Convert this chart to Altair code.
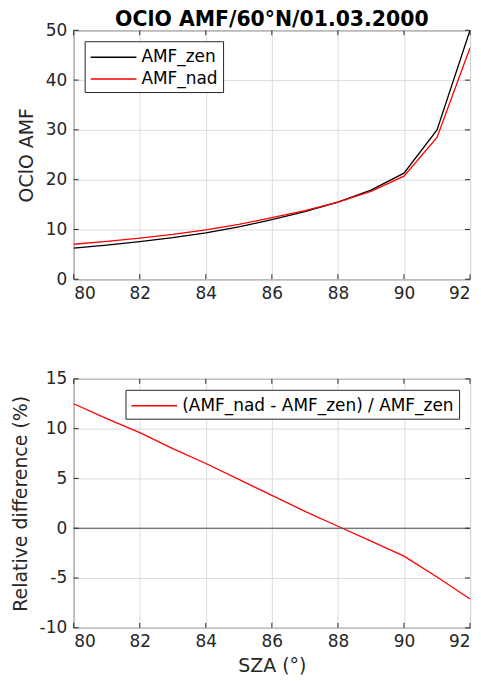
import altair as alt
import pandas as pd

sza = [80, 81, 82, 83, 84, 85, 86, 87, 88, 89, 90, 91, 92]
amf_zen = [6.25, 6.85, 7.55, 8.35, 9.3, 10.5, 12.0, 13.6, 15.5, 17.9, 21.3, 30.0, 50.0]
amf_nad = [7.03, 7.6, 8.27, 9.0, 9.9, 11.0, 12.4, 13.8, 15.5, 17.65, 20.7, 28.5, 46.5]
rel_diff = [12.5, 11.0, 9.6, 8.0, 6.5, 4.9, 3.3, 1.7, 0.2, -1.3, -2.8, -4.9, -7.1]

x_ticks = [80, 82, 84, 86, 88, 90, 92]
y1_ticks = [0, 10, 20, 30, 40, 50]
y2_ticks = [-10, -5, 0, 5, 10, 15]

W, H = 398, 250
AX = "#262626"
FONT = "DejaVu Sans"

top_df = pd.DataFrame(
    {"SZA": sza * 2, "AMF": amf_zen + amf_nad,
     "series": ["AMF_zen"] * len(sza) + ["AMF_nad"] * len(sza)}
)
bot_df = pd.DataFrame({"SZA": sza, "diff": rel_diff,
                       "series": ["(AMF_nad - AMF_zen) / AMF_zen"] * len(sza)})

xscale = alt.Scale(domain=[80, 92], nice=False, zero=False)
y1scale = alt.Scale(domain=[0, 50], nice=False, zero=False)
y2scale = alt.Scale(domain=[-10, 15], nice=False, zero=False)


def x_axis(title):
    kw = dict(values=x_ticks, grid=True, ticks=False, domain=False, labelPadding=6,
              labelExpr="'' + datum.value")
    if title:
        return alt.Axis(title=title, titlePadding=7, **kw)
    return alt.Axis(title=None, **kw)


def y_axis(title, values):
    return alt.Axis(title=title, values=values, grid=True, ticks=False, domain=False,
                    labelPadding=7, titlePadding=9, labelExpr="'' + datum.value")


def tick_layers(yvals, yscale):
    xt = pd.DataFrame({"t": x_ticks})
    yt = pd.DataFrame({"t": yvals})
    xb = alt.Chart(xt).mark_rule(color=AX, strokeWidth=1).encode(
        x=alt.X("t:Q", scale=xscale), y=alt.value(H), y2=alt.value(H - 5))
    xtp = alt.Chart(xt).mark_rule(color=AX, strokeWidth=1).encode(
        x=alt.X("t:Q", scale=xscale), y=alt.value(0), y2=alt.value(5))
    yl = alt.Chart(yt).mark_rule(color=AX, strokeWidth=1).encode(
        y=alt.Y("t:Q", scale=yscale), x=alt.value(0), x2=alt.value(5))
    yr = alt.Chart(yt).mark_rule(color=AX, strokeWidth=1).encode(
        y=alt.Y("t:Q", scale=yscale), x=alt.value(W), x2=alt.value(W - 5))
    return [xb, xtp, yl, yr]


def legend(orient, rowpad):
    return alt.Legend(title=None, orient=orient, offset=11,
                      symbolType="M-1,0L3.6,0", symbolSize=400,
                      symbolStrokeWidth=1.5, labelFontSize=17,
                      labelColor="#000000", labelFont=FONT, labelLimit=0,
                      labelOffset=30, rowPadding=rowpad, padding=5,
                      fillColor="#ffffff", strokeColor=AX)


top_lines = alt.Chart(top_df).mark_line(strokeWidth=1.3, clip=True).encode(
    x=alt.X("SZA:Q", scale=xscale, axis=x_axis(None)),
    y=alt.Y("AMF:Q", scale=y1scale, axis=y_axis("OClO AMF", y1_ticks)),
    color=alt.Color("series:N",
                    scale=alt.Scale(domain=["AMF_zen", "AMF_nad"], range=["#000000", "#ff0000"]),
                    sort=["AMF_zen", "AMF_nad"],
                    legend=legend("top-left", 3)),
)

top = alt.layer(top_lines, *tick_layers(y1_ticks, y1scale)).properties(
    width=W, height=H,
    title=alt.TitleParams("OClO AMF/60°N/01.03.2000", fontSize=20.5, fontWeight="bold",
                          font=FONT, color="#000000", offset=-9, anchor="middle"),
)

zero_df = pd.DataFrame({"z": [0]})
zero_line = alt.Chart(zero_df).mark_rule(color="#4d4d4d", strokeWidth=1).encode(
    y=alt.Y("z:Q", scale=y2scale))

bot_line = alt.Chart(bot_df).mark_line(strokeWidth=1.3, clip=True).encode(
    x=alt.X("SZA:Q", scale=xscale, axis=x_axis("SZA (°)")),
    y=alt.Y("diff:Q", scale=y2scale, axis=y_axis("Relative difference (%)", y2_ticks)),
    color=alt.Color("series:N",
                    scale=alt.Scale(domain=["(AMF_nad - AMF_zen) / AMF_zen"], range=["#ff0000"]),
                    legend=legend("top-right", 0)),
)

bottom = alt.layer(bot_line, zero_line, *tick_layers(y2_ticks, y2scale)).properties(
    width=W, height=H)

chart = alt.vconcat(top, bottom, spacing=67).resolve_scale(color="independent").resolve_legend(
    color="independent"
).properties(
    padding={"left": 10, "top": 8, "right": 10, "bottom": 5},
    background="#ffffff",
).configure_view(
    stroke=AX, strokeWidth=1
).configure_axis(
    labelFont=FONT, titleFont=FONT, labelFontSize=17, titleFontSize=19,
    labelColor=AX, titleColor=AX, titleFontWeight="normal",
    gridColor="#dddddd", gridWidth=1,
)

chart.save("out.html", embed_options={"renderer": "svg", "actions": False})
